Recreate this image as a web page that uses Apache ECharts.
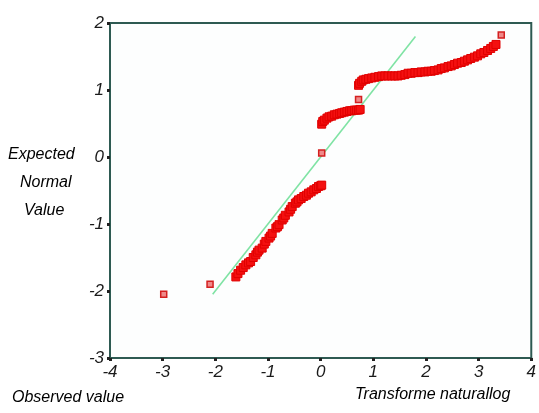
<!DOCTYPE html>
<html>
<head>
<meta charset="utf-8">
<script src="https://cdn.jsdelivr.net/npm/echarts@6/dist/echarts.min.js"></script>
<style>
  html, body { margin: 0; padding: 0; background: #ffffff; }
  #chart { width: 539px; height: 413px; }
</style>
</head>
<body>
<div id="chart"></div>
<script>
// Q-Q plot: observed (log-transformed) values vs expected normal values
const xTicks = [-4, -3, -2, -1, 0, 1, 2, 3, 4];
const yTicks = [-3, -2, -1, 0, 1, 2];

// Dense runs of cases: observed value (x) and expected normal value (y)
const observed = [
  -1.61, -1.57, -1.52, -1.47, -1.42, -1.37, -1.33, -1.28, -1.23, -1.20, -1.17, -1.11,
  -1.07, -1.04, -0.98, -0.95, -0.92, -0.85, -0.82, -0.79, -0.73, -0.70, -0.67, -0.60,
  -0.57, -0.54, -0.48, -0.45, -0.42, -0.37, -0.32, -0.27, -0.23, -0.18, -0.13, -0.08,
  -0.04, 0.00, 0.02,
  0.02, 0.04, 0.07, 0.12, 0.16, 0.21, 0.26, 0.31, 0.36, 0.40, 0.45, 0.50, 0.55, 0.59,
  0.64, 0.68, 0.72, 0.75,
  0.72, 0.74, 0.78, 0.81, 0.86, 0.91, 0.97, 1.03, 1.10, 1.16, 1.22, 1.28, 1.35, 1.41,
  1.47, 1.53, 1.60, 1.66, 1.72, 1.79, 1.85, 1.91, 1.98, 2.04, 2.10, 2.16, 2.23, 2.29,
  2.35, 2.42, 2.48, 2.54, 2.60, 2.67, 2.73, 2.79, 2.85, 2.92, 2.98, 3.04, 3.10, 3.17,
  3.23, 3.28, 3.33
];
const expected = [
  -1.79, -1.74, -1.69, -1.65, -1.61, -1.58, -1.56, -1.50, -1.46, -1.42, -1.39, -1.36,
  -1.30, -1.26, -1.21, -1.18, -1.14, -1.06, -1.04, -1.01, -0.94, -0.91, -0.87, -0.82,
  -0.78, -0.74, -0.69, -0.67, -0.64, -0.62, -0.59, -0.57, -0.54, -0.52, -0.49, -0.47,
  -0.44, -0.43, -0.42,
  0.49, 0.53, 0.55, 0.58, 0.60, 0.61, 0.63, 0.64, 0.65, 0.66, 0.67, 0.68, 0.69, 0.69,
  0.70, 0.70, 0.70, 0.71,
  1.07, 1.10, 1.13, 1.15, 1.16, 1.17, 1.18, 1.19, 1.20, 1.21, 1.21, 1.21, 1.21, 1.21,
  1.21, 1.22, 1.23, 1.25, 1.25, 1.26, 1.26, 1.27, 1.27, 1.28, 1.28, 1.29, 1.30, 1.32,
  1.33, 1.35, 1.36, 1.38, 1.40, 1.41, 1.43, 1.45, 1.47, 1.49, 1.51, 1.54, 1.56, 1.59,
  1.62, 1.65, 1.68
];

// Isolated cases
const observedSingle = [-2.98, -2.10, 0.02, 0.72, 3.43];
const expectedSingle = [-2.05, -1.90, 0.06, 0.86, 1.82];

// Reference line y = x
const refLineX = [-2.05, 1.80];
const refLineY = [-2.05, 1.80];

const points = observed.map((x, i) => [x, expected[i]]);
const singles = observedSingle.map((x, i) => [x, expectedSingle[i]]);
const refLine = refLineX.map((x, i) => [x, refLineY[i]]);

const axisColor = '#2e5a52';
const labelFont = {
  fontFamily: 'Liberation Sans, Arial, sans-serif',
  fontStyle: 'italic',
  fontSize: 17,
  color: '#1a1a1a'
};

const chart = echarts.init(document.getElementById('chart'), null, { renderer: 'canvas' });
chart.setOption({
  animation: false,
  backgroundColor: '#ffffff',
  grid: {
    left: 110, right: 5, top: 23, bottom: 55,
    show: true, borderColor: axisColor, borderWidth: 2, backgroundColor: '#fdfefe'
  },
  xAxis: {
    type: 'value', min: -4, max: 4, interval: 1,
    axisLine: { show: true, onZero: false, lineStyle: { color: axisColor, width: 2 } },
    axisTick: { show: true, length: 3, lineStyle: { color: '#222', width: 3 } },
    splitLine: { show: false },
    axisLabel: Object.assign({ margin: 6, formatter: v => xTicks.includes(v) ? String(v) : '' }, labelFont)
  },
  yAxis: {
    type: 'value', min: -3, max: 2, interval: 1,
    axisLine: { show: true, onZero: false, lineStyle: { color: axisColor, width: 2 } },
    axisTick: { show: true, length: 3, lineStyle: { color: '#222', width: 3 } },
    splitLine: { show: false },
    axisLabel: Object.assign({ margin: 6, formatter: v => yTicks.includes(v) ? String(v) : '' }, labelFont)
  },
  series: [
    {
      type: 'line',
      data: refLine,
      symbol: 'none',
      lineStyle: { color: '#7fe3a4', width: 1.6 },
      z: 2
    },
    {
      type: 'scatter',
      data: points,
      symbol: 'rect',
      symbolSize: 8,
      itemStyle: { color: '#f41010', borderColor: '#e00000', borderWidth: 1, opacity: 1 },
      z: 3
    },
    {
      type: 'scatter',
      data: singles,
      symbol: 'rect',
      symbolSize: 6,
      itemStyle: { color: '#ef8a8a', borderColor: '#d42020', borderWidth: 1.5, opacity: 1 },
      z: 4
    }
  ],
  graphic: [
    { type: 'text', left: 8, top: 147, style: Object.assign({ text: 'Expected' }, labelFont, { fontSize: 16 }) },
    { type: 'text', left: 20, top: 175, style: Object.assign({ text: 'Normal' }, labelFont, { fontSize: 16 }) },
    { type: 'text', left: 24, top: 203, style: Object.assign({ text: 'Value' }, labelFont, { fontSize: 16 }) },
    { type: 'text', left: 12, top: 390, style: Object.assign({ text: 'Observed value' }, labelFont, { fontSize: 16 }) },
    { type: 'text', left: 355, top: 387, style: Object.assign({ text: 'Transforme naturallog' }, labelFont, { fontSize: 16 }) }
  ]
});
</script>
</body>
</html>
